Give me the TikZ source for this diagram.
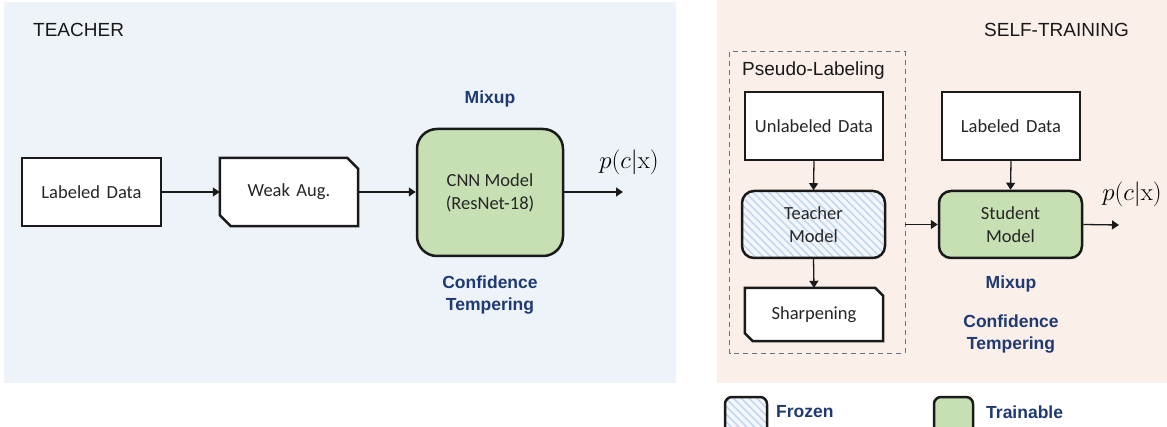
\documentclass[tikz,border=0pt]{standalone}
\usepackage[no-math]{fontspec}
\setmainfont{Carlito}
\newfontfamily\arialf{Liberation Sans}
\usetikzlibrary{arrows.meta,patterns.meta,fit}
\definecolor{bgL}{HTML}{EEF3FA}
\definecolor{bgR}{HTML}{FBEFEA}
\definecolor{grn}{HTML}{C6E0B4}
\definecolor{navy}{HTML}{1F3A73}
\definecolor{hatch}{HTML}{C3D7EE}
\definecolor{hatchbg}{HTML}{F3F7FC}
\definecolor{dashc}{HTML}{66717F}
\definecolor{edge}{HTML}{1A1A1A}
\newcommand{\wsp}{\hspace{0.35em}}
\tikzset{
  boxtext/.style={font=\fontsize{18.5}{23}\selectfont, align=center, text=black!85},
  plainbox/.style={boxtext, draw=edge, line width=2.5pt, fill=white, inner sep=0pt, minimum width=#1},
  cutbox/.style={boxtext, inner sep=0pt},
  greenbox/.style={boxtext, draw=edge, line width=2.5pt, fill=grn, inner sep=0pt},
  frozenbox/.style={boxtext, draw=edge, line width=2.5pt, inner sep=0pt,
     preaction={fill=hatchbg},
     pattern={Lines[angle=-45,distance=5.5pt,line width=1.6pt]}, pattern color=hatch},
  arr/.style={line width=1.3pt, draw=edge, -{Triangle[length=7pt,width=9pt]}},
  title/.style={font=\arialf\fontsize{19}{23}\selectfont, text=black!90, inner sep=0pt},
  bluelbl/.style={font=\arialf\bfseries\fontsize{17.5}{22}\selectfont, text=navy, align=center, inner sep=0pt},
  prob/.style={font=\fontsize{24}{28}\selectfont, inner sep=0pt},
  cutline/.style={draw=edge, fill=white, line width=2.5pt, line join=miter},
}
\begin{document}
\begin{tikzpicture}[x=1pt,y=-1pt]
\clip (0,0) rectangle (1167,427);
\useasboundingbox (0,0) rectangle (1167,427);
% panels
\fill[bgL] (4,2) rectangle (676,383);
\fill[bgR] (717,0) rectangle (1167,383);

% ---------- TEACHER ----------
\node[title, anchor=west] (tt) at (33,30) {TEACHER};
\node[plainbox=139pt, minimum height=68pt] (ld) at (91.5,192) {Labeled\wsp Data};
\node[cutbox, minimum width=138pt, minimum height=68pt] (wa) at (289,192) {};
\path[cutline] (wa.north west) -- ([xshift=-11pt]wa.north east) -- ([yshift=-11pt]wa.north east)
  -- (wa.south east) -- ([xshift=11pt]wa.south west) -- ([yshift=11pt]wa.south west) -- cycle;
\node[cutbox] (wat) at (wa.center) {Weak\wsp Aug.};
\node[greenbox, minimum width=146pt, minimum height=127pt, rounded corners=20pt] (cnn) at (490,192.5) {CNN Model\\(ResNet-18)};
\node[bluelbl] (mxL) at (490,99) {Mixup};
\node[bluelbl] (ctL) at (490,295) {Confidence\\Tempering};
\node[prob] (pL) at (629,162) {$p(c|\mathrm{x})$};
\coordinate (oL) at (623,192);
\draw[arr] (ld.east) -- (wa.west);
\draw[arr] (wa.east) -- (cnn.west |- wa.east);
\draw[arr] (cnn.east |- oL) -- (oL);

% ---------- SELF-TRAINING ----------
\node[title, anchor=east] (st) at (1129,30) {SELF-TRAINING};
\node[inner sep=0pt, minimum width=175pt, minimum height=301pt] (pl) at (817.5,202.5) {};
\draw[dashc, line width=1.2pt, dash pattern=on 5pt off 4pt] (pl.north west) rectangle (pl.south east);
\node[title, anchor=west] (plt) at (742,71) {Pseudo-Labeling};
\node[plainbox=138pt, minimum height=68pt] (ul) at (814,126) {Unlabeled\wsp Data};
\node[frozenbox, minimum width=143pt, minimum height=67pt, rounded corners=12pt] (tm) at (813.5,224.5) {Teacher\\Model};
\node[cutbox, minimum width=138pt, minimum height=53pt] (sh) at (814,314.5) {};
\path[cutline] (sh.north west) -- ([xshift=-8pt]sh.north east) -- ([yshift=-8pt]sh.north east)
  -- (sh.south east) -- ([xshift=8pt]sh.south west) -- ([yshift=8pt]sh.south west) -- cycle;
\node[cutbox] (sht) at (sh.center) {Sharpening};
\node[plainbox=138pt, minimum height=68pt] (lb) at (1011,126) {Labeled\wsp Data};
\node[greenbox, minimum width=143pt, minimum height=67pt, rounded corners=12pt] (sm) at (1010.5,224.5) {Student\\Model};
\node[prob] (pR) at (1132,194) {$p(c|\mathrm{x})$};
\coordinate (oR) at (1119,225);
\node[bluelbl] (mxR) at (1011,284) {Mixup};
\node[bluelbl] (ctR) at (1011,334) {Confidence\\Tempering};
\draw[arr] (ul.south) -- (tm.north);
\draw[arr] (tm.south) -- (sh.north);
\draw[arr] (lb.south) -- (sm.north);
\draw[arr] (pl.east |- sm.west) -- (sm.west);
\draw[arr] (sm.east) -- (oR);

% ---------- legend ----------
\node[frozenbox, minimum width=42pt, minimum height=40pt, rounded corners=7pt] (lf) at (746,417) {};
\node[bluelbl, anchor=west] (lft) at (776,412) {Frozen};
\node[greenbox, minimum width=39pt, minimum height=40pt, rounded corners=7pt] (lt) at (953.5,417) {};
\node[bluelbl, anchor=west] (ltt) at (986,412) {Trainable};
\end{tikzpicture}
\end{document}
